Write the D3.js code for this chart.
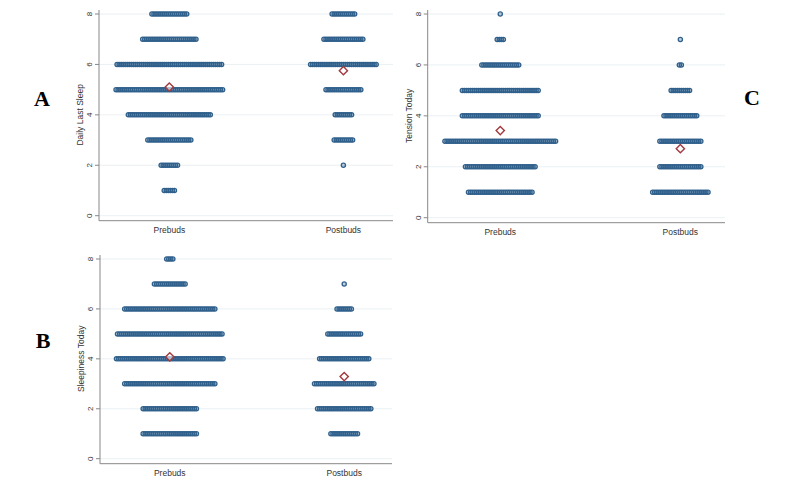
<!DOCTYPE html>
<html>
<head>
<meta charset="UTF-8">
<style>
	body { margin: 0; background: #fff; }
	svg { display: block; }
	.tick-label, .axis-title, .group-label { font-family: "Liberation Sans", Arial, sans-serif; fill: #333; }
	.panel-letter { font-family: "Liberation Serif", "Times New Roman", serif; font-weight: bold; font-size: 22px; fill: #000; }
</style>
<script src="https://cdnjs.cloudflare.com/ajax/libs/d3/7.8.5/d3.min.js"></script>
</head>
<body>
<div id="chart"></div>
<script>

// categories and axis ticks
var groups = ["Prebuds", "Postbuds"];
var levels = [1, 2, 3, 4, 5, 6, 7, 8];
var yTicks = [0, 2, 4, 6, 8];

// number of respondents at each level 1..8
var sleepPre  = [6, 9, 22, 41, 53, 52, 27, 18];
var sleepPost = [0, 1, 10, 9, 18, 33, 20, 12];
var sleepyPre  = [27, 27, 45, 53, 52, 45, 16, 4];
var sleepyPost = [14, 27, 30, 25, 17, 8, 1, 0];
var tensionPre  = [32, 35, 55, 38, 38, 19, 4, 1];
var tensionPost = [28, 21, 21, 17, 10, 2, 1, 0];

// group means (red diamonds)
var sleepMeans = [5.1, 5.75];
var sleepyMeans = [4.08, 3.29];
var tensionMeans = [3.42, 2.71];

var W = 800, H = 489;
var svg = d3.select("#chart").append("svg").attr("width", W).attr("height", H);

var dotColor = "#30608c";
var meanColor = "#a23a3e";

// one panel = one dot plot
var drawPanel = function(p){
	var g = svg.append("g");

	var x = d3.scaleLinear().domain(p.xDomain).range([p.left, p.right]);
	var y = d3.scaleLinear().domain([0, 8]).range([p.y0, p.y8]);
	var off = d3.scaleLinear().domain([0, 1]).range([0, 2.05]); // dot spacing inside a row
	var bottom = y(0) + 5;

	// light grid
	g.selectAll(".grid").data(yTicks).enter().append("line")
		.attr("x1", p.left).attr("x2", p.right)
		.attr("y1", function(d){ return y(d); }).attr("y2", function(d){ return y(d); })
		.style("stroke", "#eaf0f3").style("stroke-width", 1);

	// axes
	g.append("line")
		.attr("x1", p.left).attr("x2", p.left)
		.attr("y1", y(8) - 4).attr("y2", bottom)
		.style("stroke", "#888").style("stroke-width", 1);
	g.append("line")
		.attr("x1", p.left).attr("x2", p.right)
		.attr("y1", bottom).attr("y2", bottom)
		.style("stroke", "#888").style("stroke-width", 1);

	g.selectAll(".ytick").data(yTicks).enter().append("line")
		.attr("x1", p.left - 4).attr("x2", p.left)
		.attr("y1", function(d){ return y(d); }).attr("y2", function(d){ return y(d); })
		.style("stroke", "#888");

	g.selectAll(".tick-label").data(yTicks).enter().append("text")
		.attr("class", "tick-label")
		.attr("transform", function(d){ return "translate(" + (p.left - 7) + "," + y(d) + ") rotate(-90)"; })
		.attr("text-anchor", "middle")
		.style("font-size", "8px")
		.text(function(d){ return d; });

	g.append("text")
		.attr("class", "axis-title")
		.attr("transform", "translate(" + (p.left - 16) + "," + (y(0) + y(8)) / 2 + ") rotate(-90)")
		.attr("text-anchor", "middle")
		.style("font-size", "8.5px")
		.text(p.title);

	g.selectAll(".group-label").data(groups).enter().append("text")
		.attr("class", "group-label")
		.attr("x", function(d, i){ return x(i); })
		.attr("y", bottom + 12)
		.attr("text-anchor", "middle")
		.style("font-size", "8.5px")
		.text(function(d){ return d; });

	// dots (light-centred markers, they merge into a band when stacked)
	p.counts.forEach(function(counts, gi){
		levels.forEach(function(lv, li){
			var n = counts[li];
			var pts = d3.range(n);
			g.selectAll(null).data(pts).enter().append("circle")
				.attr("cx", function(k){ return x(gi) + off(k - (n - 1) / 2); })
				.attr("cy", y(lv))
				.attr("r", 2.1)
				.style("fill", dotColor).style("fill-opacity", 0.3)
				.style("stroke", dotColor)
				.style("stroke-width", 1.3);
		});
	});

	// mean diamonds
	g.selectAll(".mean").data(p.means).enter().append("path")
		.attr("d", d3.symbol().type(d3.symbolSquare).size(34))
		.attr("transform", function(d, i){ return "translate(" + x(i) + "," + y(d) + ") rotate(45)"; })
		.style("fill", "#fff").style("fill-opacity", 0.6)
		.style("stroke", meanColor).style("stroke-width", 1.4);
};

drawPanel({ title: "Daily Last Sleep", counts: [sleepPre, sleepPost], means: sleepMeans,
	left: 99, right: 393, xDomain: [-0.404, 1.285], y0: 215.7, y8: 14 });
drawPanel({ title: "Tension Today", counts: [tensionPre, tensionPost], means: tensionMeans,
	left: 427.7, right: 725, xDomain: [-0.403, 1.248], y0: 217.7, y8: 14 });
drawPanel({ title: "Sleepiness Today", counts: [sleepyPre, sleepyPost], means: sleepyMeans,
	left: 100, right: 392, xDomain: [-0.40, 1.274], y0: 458.7, y8: 259 });

// panel letters
var letters = [["A", 42, 106], ["C", 752, 105], ["B", 43, 348]];
svg.selectAll(".panel-letter").data(letters).enter().append("text")
	.attr("class", "panel-letter")
	.attr("x", function(d){ return d[1]; })
	.attr("y", function(d){ return d[2]; })
	.attr("text-anchor", "middle")
	.text(function(d){ return d[0]; });

</script>
</body>
</html>
